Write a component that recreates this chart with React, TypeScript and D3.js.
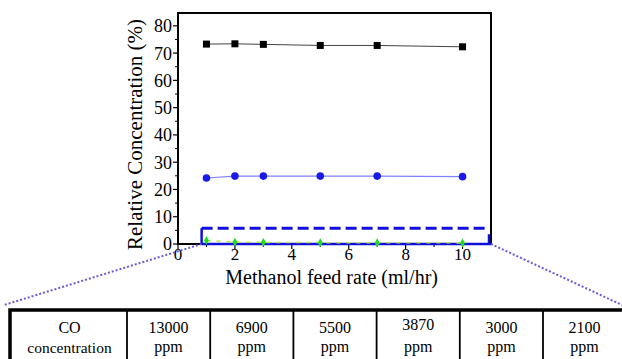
import React from 'react';
import * as d3 from 'd3';

// feed rates (ml/hr) and relative concentrations (%)
const feedRates = [1, 2, 3, 5, 7, 10];
const h2Values = [73.3, 73.4, 73.2, 72.8, 72.8, 72.3];
const co2Values = [24.2, 24.9, 24.9, 24.9, 24.9, 24.7];
const coValues = [1.3, 0.7, 0.6, 0.5, 0.5, 0.4];

const xTicks = [0, 2, 4, 6, 8, 10];
const yTicks = [0, 10, 20, 30, 40, 50, 60, 70, 80];

// zoom box range (in data units)
const zoomX0 = 0.83;
const zoomY1 = 5.8;

const tableHead = ['CO', 'concentration'];
const coPpm = ['13000', '6900', '5500', '3870', '3000', '2100'];

const W = 622;
const H = 359;
const font = "'Liberation Serif', 'DejaVu Serif', serif";

export default function App() {
  const x = d3.scaleLinear().domain([0, 11]).range([178, 491]);
  const y = d3.scaleLinear().domain([0, 84.7]).range([244, 13]);

  const line = d3
    .line<[number, number]>()
    .x(d => x(d[0]))
    .y(d => y(d[1]));

  const pts = (vals: number[]) => feedRates.map((f, i) => [f, vals[i]] as [number, number]);

  const minorY = d3.range(5, 85, 10);
  const minorX = d3.range(1, 11, 2);

  // table geometry
  const tLeft = 10;
  const tTop = 310;
  const firstW = 117;
  const colW = 83.2;
  const colX = (i: number) => tLeft + firstW + i * colW;

  const txt = { fontFamily: font };

  return (
    <div style={{ position: 'fixed', left: 0, top: 0 }}>
      <svg width={W} height={H} style={{ display: 'block', background: '#fff', fontFamily: font }}>
        {/* plot frame */}
        <rect x={x(0)} y={y(84.7)} width={x(11) - x(0)} height={y(0) - y(84.7)} fill="none" stroke="#000" strokeWidth={2} />

        {/* y ticks */}
        {yTicks.map(t => (
          <g key={'y' + t}>
            <line x1={x(0) - 5} x2={x(0)} y1={y(t)} y2={y(t)} stroke="#000" strokeWidth={1.2} />
            <text x={x(0) - 6} y={y(t)} dy="0.36em" textAnchor="end" fontSize={18} style={txt}>
              {t}
            </text>
          </g>
        ))}
        {minorY.map(t => (
          <line key={'my' + t} x1={x(0) - 3} x2={x(0)} y1={y(t)} y2={y(t)} stroke="#000" strokeWidth={1} />
        ))}

        {/* x ticks */}
        {xTicks.map(t => (
          <g key={'x' + t}>
            <line x1={x(t)} x2={x(t)} y1={y(0)} y2={y(0) + 5} stroke="#000" strokeWidth={1.2} />
            <text x={x(t)} y={260} textAnchor="middle" fontSize={17} style={txt}>
              {t}
            </text>
          </g>
        ))}
        {minorX.map(t => (
          <line key={'mx' + t} x1={x(t)} x2={x(t)} y1={y(0)} y2={y(0) + 3} stroke="#000" strokeWidth={1} />
        ))}

        {/* axis titles */}
        <text x={x(5.4)} y={284} textAnchor="middle" fontSize={20} style={txt}>
          Methanol feed rate (ml/hr)
        </text>
        <text transform={`translate(142,${(y(0) + y(84.7)) / 2 + 6}) rotate(-90)`} textAnchor="middle" fontSize={21} style={txt}>
          Relative Concentration (%)
        </text>

        {/* H2 series */}
        <path d={line(pts(h2Values)) || ''} fill="none" stroke="#444" strokeWidth={1} />
        {feedRates.map((f, i) => (
          <rect key={'h' + f} x={x(f) - 3.5} y={y(h2Values[i]) - 3.5} width={7} height={7} fill="#000" />
        ))}

        {/* CO2 series */}
        <path d={line(pts(co2Values)) || ''} fill="none" stroke="#7f7fff" strokeWidth={1.2} />
        {feedRates.map((f, i) => (
          <circle key={'c' + f} cx={x(f)} cy={y(co2Values[i])} r={3.8} fill="#1a1ae6" />
        ))}

        {/* zoom box */}
        <path d={`M${x(zoomX0)},${y(0)} V${y(zoomY1)}`} stroke="#1010dd" strokeWidth={2.5} fill="none" />
        <path
          d={`M${x(zoomX0)},${y(zoomY1)} H${x(11) - 2}`}
          stroke="#1010dd"
          strokeWidth={3}
          strokeDasharray="11 5"
          fill="none"
        />
        <path d={`M${x(11) - 2},${y(zoomY1) + 6} V${y(0)}`} stroke="#1010dd" strokeWidth={2.5} fill="none" />
        <path d={`M${x(zoomX0)},${y(0)} H${x(11)}`} stroke="#1010dd" strokeWidth={2.5} fill="none" />

        {/* CO series */}
        <path d={line(pts(coValues)) || ''} fill="none" stroke="#b5e63c" strokeWidth={1.5} strokeDasharray="4 6" />
        {feedRates.map((f, i) => (
          <path
            key={'g' + f}
            d={d3.symbol(d3.symbolDiamond, 22)() || ''}
            transform={`translate(${x(f)},${y(coValues[i])})`}
            fill="#22dd22"
          />
        ))}

        {/* zoom lines */}
        <line x1={x(zoomX0)} y1={y(0)} x2={4} y2={305} stroke="#6a5ad8" strokeWidth={2} strokeDasharray="2 2" />
        <line x1={x(11)} y1={y(0)} x2={622} y2={305} stroke="#6a5ad8" strokeWidth={2} strokeDasharray="2 2" />

        {/* CO concentration table */}
        <rect x={tLeft} y={tTop} width={W + 10 - tLeft} height={80} fill="#fff" stroke="#000" strokeWidth={3.5} />
        {coPpm.map((_, i) => (
          <line key={'cl' + i} x1={colX(i)} x2={colX(i)} y1={tTop} y2={H} stroke="#000" strokeWidth={1.8} />
        ))}
        <text x={tLeft + firstW / 2 + 1} y={333} textAnchor="middle" fontSize={16} style={txt}>
          {tableHead[0]}
        </text>
        <text x={tLeft + firstW / 2 + 1} y={353} textAnchor="middle" fontSize={15.5} style={txt}>
          {tableHead[1]}
        </text>
        {coPpm.map((v, i) => (
          <g key={'ct' + i}>
            <text x={colX(i) + colW / 2} y={v === '3870' ? 330 : 333} textAnchor="middle" fontSize={16} style={txt}>
              {v}
            </text>
            <text x={colX(i) + colW / 2} y={352} textAnchor="middle" fontSize={16} style={txt}>
              ppm
            </text>
          </g>
        ))}
      </svg>
    </div>
  );
}
